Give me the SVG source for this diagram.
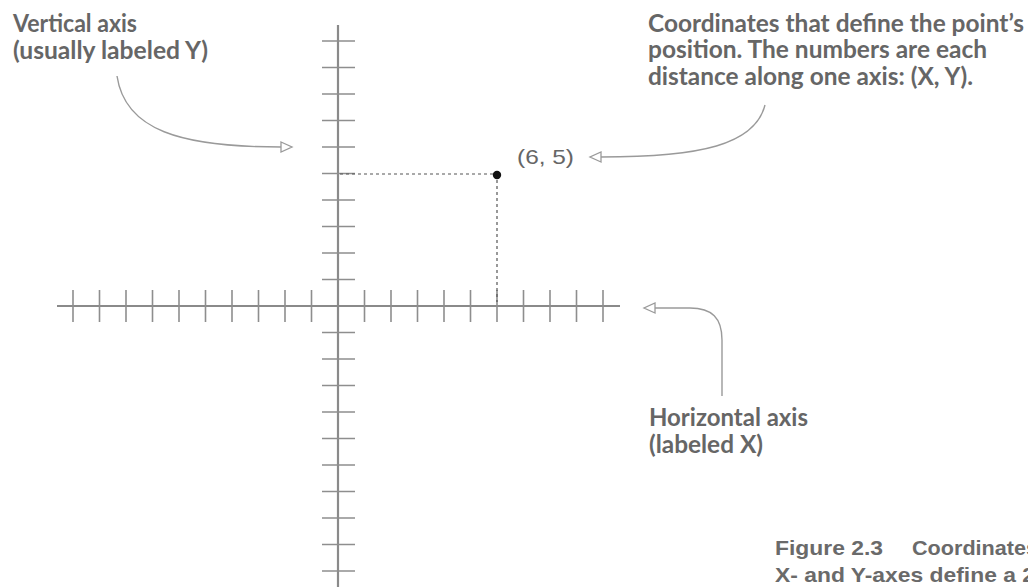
<svg xmlns="http://www.w3.org/2000/svg" width="1028" height="588" viewBox="0 0 1028 588">
<style>
.axis{stroke:#8a8a8a;stroke-width:2.2;fill:none}
.tick{stroke:#8e8e8e;stroke-width:1.6;fill:none}
.dash{stroke:#555;stroke-width:1.2;stroke-dasharray:3 3;fill:none}
.conn{stroke:#9a9a9a;stroke-width:1.4;fill:none}
.note{font-family:Lato,"Liberation Sans",sans-serif;font-weight:bold;font-size:25px;fill:#666}
.coord{font-family:"Liberation Sans",Arial,sans-serif;font-size:21px;fill:#666}
.cap{font-family:"Liberation Sans",Arial,sans-serif;font-weight:bold;font-size:21px;fill:#6a6a6a}
</style>
<defs>
<marker id="open" markerUnits="userSpaceOnUse" markerWidth="14" markerHeight="12" refX="1" refY="6" orient="auto" viewBox="0 0 14 12">
<path d="M1,1 L12,6 L1,11 Z" fill="#fff" stroke="#9a9a9a" stroke-width="1.3"/>
</marker>
</defs>
<rect width="1028" height="588" fill="#fff"/>
<g id="axes">
<line class="axis" x1="338" y1="25" x2="338" y2="587"/>
<line class="axis" x1="57" y1="306" x2="620" y2="306"/>
<g id="x-ticks">
<line class="tick" x1="73" y1="290" x2="73" y2="322"/>
<line class="tick" x1="99.5" y1="290" x2="99.5" y2="322"/>
<line class="tick" x1="126" y1="290" x2="126" y2="322"/>
<line class="tick" x1="152.5" y1="290" x2="152.5" y2="322"/>
<line class="tick" x1="179" y1="290" x2="179" y2="322"/>
<line class="tick" x1="205.5" y1="290" x2="205.5" y2="322"/>
<line class="tick" x1="232" y1="290" x2="232" y2="322"/>
<line class="tick" x1="258.5" y1="290" x2="258.5" y2="322"/>
<line class="tick" x1="285" y1="290" x2="285" y2="322"/>
<line class="tick" x1="311.5" y1="290" x2="311.5" y2="322"/>
<line class="tick" x1="364.5" y1="290" x2="364.5" y2="322"/>
<line class="tick" x1="391" y1="290" x2="391" y2="322"/>
<line class="tick" x1="417.5" y1="290" x2="417.5" y2="322"/>
<line class="tick" x1="444" y1="290" x2="444" y2="322"/>
<line class="tick" x1="470.5" y1="290" x2="470.5" y2="322"/>
<line class="tick" x1="497" y1="290" x2="497" y2="322"/>
<line class="tick" x1="523.5" y1="290" x2="523.5" y2="322"/>
<line class="tick" x1="550" y1="290" x2="550" y2="322"/>
<line class="tick" x1="576.5" y1="290" x2="576.5" y2="322"/>
<line class="tick" x1="603" y1="290" x2="603" y2="322"/>
</g>
<g id="y-ticks">
<line class="tick" x1="322" y1="41" x2="355" y2="41"/>
<line class="tick" x1="322" y1="67.5" x2="355" y2="67.5"/>
<line class="tick" x1="322" y1="94" x2="355" y2="94"/>
<line class="tick" x1="322" y1="120.5" x2="355" y2="120.5"/>
<line class="tick" x1="322" y1="147" x2="355" y2="147"/>
<line class="tick" x1="322" y1="173.5" x2="355" y2="173.5"/>
<line class="tick" x1="322" y1="200" x2="355" y2="200"/>
<line class="tick" x1="322" y1="226.5" x2="355" y2="226.5"/>
<line class="tick" x1="322" y1="253" x2="355" y2="253"/>
<line class="tick" x1="322" y1="279.5" x2="355" y2="279.5"/>
<line class="tick" x1="322" y1="332.5" x2="355" y2="332.5"/>
<line class="tick" x1="322" y1="359" x2="355" y2="359"/>
<line class="tick" x1="322" y1="385.5" x2="355" y2="385.5"/>
<line class="tick" x1="322" y1="412" x2="355" y2="412"/>
<line class="tick" x1="322" y1="438.5" x2="355" y2="438.5"/>
<line class="tick" x1="322" y1="465" x2="355" y2="465"/>
<line class="tick" x1="322" y1="491.5" x2="355" y2="491.5"/>
<line class="tick" x1="322" y1="518" x2="355" y2="518"/>
<line class="tick" x1="322" y1="544.5" x2="355" y2="544.5"/>
<line class="tick" x1="322" y1="571" x2="355" y2="571"/>
</g>
</g>
<g id="point">
<line class="dash" x1="340" y1="174" x2="497" y2="174"/>
<line class="dash" x1="497" y1="174" x2="497" y2="302"/>
<circle cx="497" cy="175" r="4.2" fill="#111"/>
<text class="coord" x="517" y="164" textLength="57" lengthAdjust="spacingAndGlyphs">(6, 5)</text>
</g>
<g id="label-vertical">
<text class="note" x="13" y="32" textLength="124" lengthAdjust="spacingAndGlyphs">Vertical axis</text>
<text class="note" x="13" y="59" textLength="195" lengthAdjust="spacingAndGlyphs">(usually labeled Y)</text>
</g>
<g id="label-coordinates">
<text class="note" x="648" y="32" textLength="376" lengthAdjust="spacingAndGlyphs">Coordinates that define the point’s</text>
<text class="note" x="648" y="58" textLength="339" lengthAdjust="spacingAndGlyphs">position. The numbers are each</text>
<text class="note" x="648" y="85" textLength="325" lengthAdjust="spacingAndGlyphs">distance along one axis: (X, Y).</text>
</g>
<g id="label-horizontal">
<text class="note" x="649" y="426" textLength="159" lengthAdjust="spacingAndGlyphs">Horizontal axis</text>
<text class="note" x="649" y="453" textLength="114" lengthAdjust="spacingAndGlyphs">(labeled X)</text>
</g>
<g id="caption">
<text class="cap" x="775" y="555" textLength="108" lengthAdjust="spacingAndGlyphs">Figure 2.3</text>
<text class="cap" x="912" y="555" textLength="126" lengthAdjust="spacingAndGlyphs">Coordinates</text>
<text class="cap" x="775" y="582" textLength="260" lengthAdjust="spacingAndGlyphs">X- and Y-axes define a 2</text>
</g>
<g id="connectors">
<path class="conn" d="M117,76 C125,130 180,147 281,147" marker-end="url(#open)"/>
<path class="conn" d="M765,105 C755,145 700,157 601,157" marker-end="url(#open)"/>
<path class="conn" d="M722,396 L722,340 C722,318 712,308 690,308 L655,308" marker-end="url(#open)"/>
</g>
</svg>
